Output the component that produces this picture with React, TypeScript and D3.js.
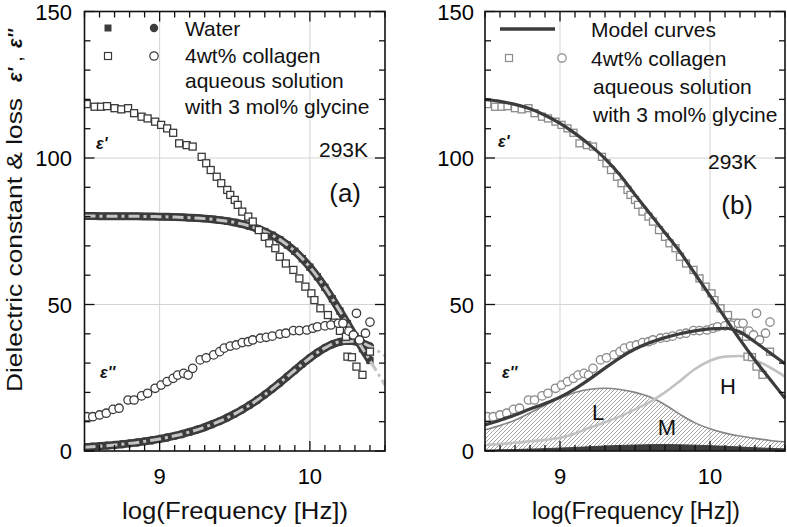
import React from 'react';
import * as d3 from 'd3';

// ---------- data ----------
const waterLogF = [8.5, 8.55, 8.6, 8.65, 8.7, 8.75, 8.8, 8.85, 8.9, 8.95, 9.0, 9.05, 9.1, 9.15, 9.2, 9.25, 9.3, 9.35, 9.4, 9.45, 9.5, 9.55, 9.6, 9.65, 9.7, 9.75, 9.8, 9.85, 9.9, 9.95, 10.0, 10.05, 10.1, 10.15, 10.2, 10.25, 10.3, 10.35, 10.4];
const waterEps1 = [80.18, 80.17, 80.16, 80.15, 80.14, 80.13, 80.11, 80.09, 80.06, 80.02, 79.97, 79.92, 79.84, 79.75, 79.63, 79.49, 79.31, 79.08, 78.79, 78.44, 78.0, 77.45, 76.76, 75.93, 74.9, 73.65, 72.14, 70.31, 68.17, 65.65, 62.76, 59.48, 55.86, 51.92, 47.76, 43.47, 39.15, 34.92, 30.89];
const waterEps2 = [1.31, 1.47, 1.64, 1.85, 2.07, 2.32, 2.6, 2.92, 3.28, 3.67, 4.12, 4.62, 5.18, 5.8, 6.5, 7.28, 8.14, 9.14, 10.18, 11.38, 12.69, 14.13, 15.7, 17.41, 19.25, 21.21, 23.27, 25.41, 27.57, 29.71, 31.74, 33.59, 35.18, 36.42, 37.25, 37.59, 37.44, 36.8, 35.72];

const modelLogF = [8.5, 8.6, 8.7, 8.8, 8.9, 9.0, 9.1, 9.2, 9.3, 9.4, 9.5, 9.6, 9.7, 9.8, 9.9, 10.0, 10.1, 10.2, 10.3, 10.4, 10.5];
const waterModelEps1 = [80.18, 80.16, 80.14, 80.11, 80.06, 79.97, 79.84, 79.63, 79.31, 78.79, 78.0, 76.76, 74.9, 72.14, 68.17, 62.76, 55.86, 47.76, 39.15, 30.89, 22.5];
const waterModelEps2 = [1.31, 1.64, 2.07, 2.6, 3.28, 4.12, 5.18, 6.5, 8.14, 10.18, 12.69, 15.7, 19.25, 23.27, 27.57, 31.74, 35.18, 37.25, 37.44, 35.72, 32.5];

const collagenEps1LogF = [8.515, 8.567, 8.61, 8.65, 8.7, 8.745, 8.79, 8.83, 8.88, 8.92, 8.97, 9.01, 9.05, 9.09, 9.13, 9.18, 9.22, 9.28, 9.31, 9.34, 9.38, 9.41, 9.45, 9.47, 9.5, 9.52, 9.55, 9.59, 9.62, 9.66, 9.7, 9.73, 9.77, 9.8, 9.84, 9.89, 9.93, 9.97, 10.01, 10.03, 10.07, 10.12, 10.16, 10.2, 10.24, 10.25, 10.28, 10.31, 10.35, 10.4];
const collagenEps1 = [118.4, 117.5, 117.5, 117.7, 117.0, 116.6, 117.0, 115.3, 114.1, 113.5, 112.4, 111.3, 110.1, 108.6, 105.0, 104.4, 103.9, 100.4, 98.2, 95.9, 93.6, 91.4, 89.1, 87.4, 85.7, 84.0, 81.7, 80.0, 78.3, 75.4, 73.1, 70.9, 69.2, 66.3, 64.0, 61.8, 58.9, 56.1, 53.8, 51.5, 48.7, 46.4, 43.8, 41.0, 39.0, 32.2, 32.0, 28.8, 26.0, 33.9];

const collagenEps2LogF = [8.515, 8.555, 8.6, 8.645, 8.69, 8.73, 8.79, 8.83, 8.88, 8.92, 8.97, 9.01, 9.05, 9.09, 9.12, 9.16, 9.19, 9.22, 9.27, 9.31, 9.36, 9.4, 9.43, 9.47, 9.51, 9.55, 9.59, 9.62, 9.67, 9.71, 9.75, 9.8, 9.84, 9.89, 9.93, 9.98, 10.02, 10.05, 10.1, 10.14, 10.19, 10.22, 10.26, 10.29, 10.31, 10.33, 10.37, 10.4];
const collagenEps2 = [11.7, 11.7, 12.3, 12.9, 14.2, 14.6, 17.4, 17.4, 18.8, 19.7, 21.4, 22.5, 23.7, 24.8, 25.9, 26.5, 25.9, 28.2, 31.1, 31.8, 32.8, 33.9, 35.1, 35.8, 36.2, 37.0, 37.3, 37.9, 38.5, 38.8, 39.2, 39.9, 40.2, 41.1, 41.1, 41.3, 41.9, 42.4, 42.7, 43.0, 43.6, 43.6, 40.9, 39.6, 47.0, 37.9, 40.2, 44.0];

const totalModelEps1 = [120.0, 119.3, 118.3, 116.8, 114.6, 111.8, 108.4, 104.4, 99.8, 94.2, 87.5, 81.0, 74.5, 68.0, 60.5, 53.0, 45.5, 38.0, 31.0, 24.5, 18.0];
const totalModelEps2 = [8.9, 10.5, 12.3, 14.3, 16.2, 18.4, 21.2, 24.6, 28.3, 31.8, 34.8, 37.0, 38.7, 40.0, 41.0, 41.7, 41.9, 40.6, 37.2, 33.5, 29.8];
const lossL = [7.2, 8.7, 10.5, 13.0, 15.6, 18.0, 20.0, 21.1, 21.4, 21.0, 20.0, 18.4, 15.8, 12.5, 9.6, 7.6, 6.1, 5.1, 4.3, 3.6, 3.1];
const lossM = [0.3, 0.4, 0.5, 0.65, 0.8, 1.0, 1.2, 1.45, 1.7, 1.9, 2.05, 2.15, 2.2, 2.1, 2.0, 1.8, 1.6, 1.35, 1.1, 0.9, 0.7];
const lossH = [2.0, 2.4, 2.8, 3.3, 3.8, 4.5, 6.0, 8.0, 9.8, 11.8, 14.2, 16.8, 20.0, 23.9, 28.0, 30.8, 32.2, 32.4, 31.0, 28.5, 25.4];

const xMajorTicks = [9, 10];
const yMajorTicks = [0, 50, 100, 150];
const legendA = ['Water', '4wt% collagen', 'aqueous solution', 'with 3 mol% glycine'];
const legendB = ['Model curves', '4wt% collagen', 'aqueous solution', 'with 3 mol% glycine'];

// ---------- layout ----------
const W = 787;
const H = 527;
const YB = 451;
const YT = 11.5;
const FONT = "'Liberation Sans', Arial, Helvetica, sans-serif";
const DARK = '#3c3c3c';

const yScale = d3.scaleLinear().domain([0, 150]).range([YB, YT]);

function mkX(x0: number, x1: number) {
  return d3.scaleLinear().domain([8.5, 10.5]).range([x0, x1]);
}

function zip(xs: number[], ys: number[]) {
  return xs.map((v, i) => [v, ys[i]] as [number, number]);
}

function Axes({ x, labelRight }: { x: d3.ScaleLinear<number, number>; labelRight: number }) {
  const [x0, x1] = x.range();
  const xt = x.ticks(20);
  const yt = yScale.ticks(15);
  return (
    <g>
      <rect x={x0} y={YT} width={x1 - x0} height={YB - YT} fill="none" stroke="#111" strokeWidth={1.6} />
      {xt.map((t, i) => {
        const major = xMajorTicks.some((m) => Math.abs(m - t) < 1e-6);
        const len = major ? 10 : 6;
        return (
          <g key={'xt' + i}>
            <line x1={x(t)} x2={x(t)} y1={YB} y2={YB - len} stroke="#111" strokeWidth={1.3} />
            <line x1={x(t)} x2={x(t)} y1={YT} y2={YT + len} stroke="#111" strokeWidth={1.3} />
          </g>
        );
      })}
      {yt.map((t, i) => {
        const major = yMajorTicks.includes(t);
        const len = major ? 10 : 6;
        return (
          <g key={'yt' + i}>
            <line x1={x0} x2={x0 + len} y1={yScale(t)} y2={yScale(t)} stroke="#111" strokeWidth={1.3} />
            <line x1={x1} x2={x1 - len} y1={yScale(t)} y2={yScale(t)} stroke="#111" strokeWidth={1.3} />
          </g>
        );
      })}
      {xMajorTicks.map((t) => (
        <text key={'xl' + t} x={x(t)} y={484} textAnchor="middle" fontSize={22} fontFamily={FONT}>
          {t}
        </text>
      ))}
      {yMajorTicks.map((t) => (
        <text key={'yl' + t} x={labelRight} y={yScale(t) + 8} textAnchor="end" fontSize={22} fontFamily={FONT}>
          {t}
        </text>
      ))}
    </g>
  );
}

function Grid({ x }: { x: d3.ScaleLinear<number, number> }) {
  const [x0, x1] = x.range();
  return (
    <g stroke="#d4d4d4" strokeWidth={1}>
      {xMajorTicks.map((t) => (
        <line key={'gx' + t} x1={x(t)} x2={x(t)} y1={YT} y2={YB} />
      ))}
      {[50, 100].map((t) => (
        <line key={'gy' + t} x1={x0} x2={x1} y1={yScale(t)} y2={yScale(t)} />
      ))}
    </g>
  );
}

function Squares({ pts, x, stroke, fill, size }: { pts: [number, number][]; x: any; stroke: string; fill: string; size: number }) {
  return (
    <g>
      {pts.map((p, i) => (
        <rect key={i} x={x(p[0]) - size / 2} y={yScale(p[1]) - size / 2} width={size} height={size} fill={fill} stroke={stroke} strokeWidth={1.3} />
      ))}
    </g>
  );
}

function Circles({ pts, x, stroke, fill, r }: { pts: [number, number][]; x: any; stroke: string; fill: string; r: number }) {
  return (
    <g>
      {pts.map((p, i) => (
        <circle key={i} cx={x(p[0])} cy={yScale(p[1])} r={r} fill={fill} stroke={stroke} strokeWidth={1.3} />
      ))}
    </g>
  );
}

export default function App() {
  const xa = mkX(84.5, 385);
  const xb = mkX(485, 785);

  const lineA = d3.line<[number, number]>().x((d) => xa(d[0])).y((d) => yScale(d[1])).curve(d3.curveMonotoneX);
  const lineB = d3.line<[number, number]>().x((d) => xb(d[0])).y((d) => yScale(d[1])).curve(d3.curveMonotoneX);
  const areaB = d3.area<[number, number]>().x((d) => xb(d[0])).y0(yScale(0)).y1((d) => yScale(d[1])).curve(d3.curveMonotoneX);

  const w1 = zip(waterLogF, waterEps1);
  const w2 = zip(waterLogF, waterEps2);
  const c1 = zip(collagenEps1LogF, collagenEps1);
  const c2 = zip(collagenEps2LogF, collagenEps2);

  const dashPattern = '11,4,3,4';

  return (
    <svg width={W} height={H} style={{ position: 'absolute', left: 0, top: 0, background: '#fff' }} fontFamily={FONT}>
      <defs>
        <pattern id="hatch" patternUnits="userSpaceOnUse" width={4} height={4}>
          <path d="M-1,1 l2,-2 M0,4 l4,-4 M3,5 l2,-2" stroke="#8c8c8c" strokeWidth={0.8} />
        </pattern>
        <clipPath id="clipA">
          <rect x={84.5} y={YT} width={300.5} height={YB - YT} />
        </clipPath>
        <clipPath id="clipB">
          <rect x={485} y={YT} width={300} height={YB - YT} />
        </clipPath>
      </defs>
      <rect x={0} y={0} width={W} height={H} fill="#fff" />

      {/* Y title */}
      <text transform="translate(22,392) rotate(-90)" fontSize={22} fill="#111" textLength={294} lengthAdjust="spacingAndGlyphs">
        Dielectric constant &amp; loss
      </text>
      <text transform="translate(22,82) rotate(-90)" fontSize={20} fill="#111">
        <tspan fontStyle="italic" fontWeight="bold">ε'</tspan>
        <tspan dx={6}>,</tspan>
        <tspan fontStyle="italic" fontWeight="bold" dx={8}>ε''</tspan>
      </text>

      {/* ---------- Panel (a) ---------- */}
      <Grid x={xa} />
      <g clipPath="url(#clipA)">
        <path d={lineA(w1) || ''} fill="none" stroke={DARK} strokeWidth={8} />
        <path d={lineA(w2) || ''} fill="none" stroke={DARK} strokeWidth={8} />
        <Squares pts={w1} x={xa} stroke={DARK} fill={DARK} size={6} />
        <Circles pts={w2} x={xa} stroke={DARK} fill={DARK} r={3.5} />
        <path d={lineA(zip(modelLogF, waterModelEps1)) || ''} fill="none" stroke="#c4c4c4" strokeWidth={3} strokeDasharray={dashPattern} />
        <path d={lineA(zip(modelLogF, waterModelEps2)) || ''} fill="none" stroke="#c4c4c4" strokeWidth={3} strokeDasharray={dashPattern} />
        <Squares pts={c1} x={xa} stroke="#3a3a3a" fill="#fff" size={7} />
        <Circles pts={c2} x={xa} stroke="#3a3a3a" fill="#fff" r={4.2} />
      </g>
      <Axes x={xa} labelRight={72} />

      {/* legend a */}
      <rect x={104.5} y={24.5} width={7} height={7} fill={DARK} />
      <circle cx={154} cy={28} r={4.2} fill={DARK} />
      <rect x={104.5} y={52.5} width={7} height={7} fill="#fff" stroke="#3a3a3a" strokeWidth={1.2} />
      <circle cx={154} cy={56} r={4.2} fill="#fff" stroke="#3a3a3a" strokeWidth={1.2} />
      {legendA.map((s, i) => (
        <text key={'la' + i} x={185} y={[35.5, 62.5, 88, 114][i]} fontSize={21} fill="#111">
          {s}
        </text>
      ))}
      <text x={368} y={157} textAnchor="end" fontSize={21} fill="#111">293K</text>
      <text x={361} y={202} textAnchor="end" fontSize={26} fill="#111">(a)</text>
      <text x={96} y={149} fontSize={16} fontStyle="italic" fontWeight="bold" fill="#111">ε'</text>
      <text x={100} y={378} fontSize={16} fontStyle="italic" fontWeight="bold" fill="#111">ε''</text>
      <text x={235} y={519} textAnchor="middle" fontSize={24} fill="#111" textLength={226} lengthAdjust="spacingAndGlyphs">log(Frequency [Hz])</text>

      {/* ---------- Panel (b) ---------- */}
      <Grid x={xb} />
      <g clipPath="url(#clipB)">
        <path d={areaB(zip(modelLogF, lossL)) || ''} fill="url(#hatch)" stroke="none" />
        <path d={lineB(zip(modelLogF, lossL)) || ''} fill="none" stroke="#858585" strokeWidth={1.6} />
        <path d={areaB(zip(modelLogF, lossM)) || ''} fill={DARK} stroke={DARK} strokeWidth={1} />
        <path d={lineB(zip(modelLogF, lossH)) || ''} fill="none" stroke="#c2c2c2" strokeWidth={2.6} />
        <Squares pts={c1} x={xb} stroke="#8a8a8a" fill="#fff" size={7} />
        <Circles pts={c2} x={xb} stroke="#8a8a8a" fill="#fff" r={4.2} />
        <path d={lineB(zip(modelLogF, totalModelEps1)) || ''} fill="none" stroke={DARK} strokeWidth={3.2} />
        <path d={lineB(zip(modelLogF, totalModelEps2)) || ''} fill="none" stroke={DARK} strokeWidth={3.2} />
      </g>
      <Axes x={xb} labelRight={474} />

      {/* legend b */}
      <line x1={500} x2={555} y1={29} y2={29} stroke={DARK} strokeWidth={3.5} />
      <rect x={505.5} y={54.5} width={7} height={7} fill="#fff" stroke="#8a8a8a" strokeWidth={1.2} />
      <circle cx={562} cy={58} r={4.2} fill="#fff" stroke="#8a8a8a" strokeWidth={1.2} />
      {legendB.map((s, i) => (
        <text key={'lb' + i} x={i >= 2 ? 593 : 591} y={[37, 66, 94, 122][i]} fontSize={21} fill="#111">
          {s}
        </text>
      ))}
      <text x={757} y={169} textAnchor="end" fontSize={21} fill="#111">293K</text>
      <text x={753} y={214} textAnchor="end" fontSize={26} fill="#111">(b)</text>
      <text x={498} y={147} fontSize={16} fontStyle="italic" fontWeight="bold" fill="#111">ε'</text>
      <text x={502} y={378} fontSize={16} fontStyle="italic" fontWeight="bold" fill="#111">ε''</text>
      <text x={598} y={420} textAnchor="middle" fontSize={22} fill="#111">L</text>
      <text x={667} y={435} textAnchor="middle" fontSize={22} fill="#111">M</text>
      <text x={728} y={394} textAnchor="middle" fontSize={22} fill="#111">H</text>
      <text x={636} y={519} textAnchor="middle" fontSize={23} fill="#111" textLength={208} lengthAdjust="spacingAndGlyphs">log(Frequency [Hz])</text>
    </svg>
  );
}
